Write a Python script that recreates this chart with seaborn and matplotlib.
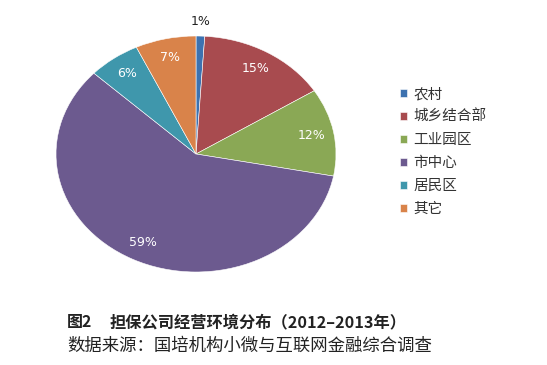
import matplotlib
matplotlib.use("Agg")
import matplotlib.pyplot as plt
import seaborn as sns

categories = ["农村", "城乡结合部", "工业园区", "市中心", "居民区", "其它"]
values = [1, 15, 12, 59, 6, 7]
labels = ["1%", "15%", "12%", "59%", "6%", "7%"]
colors = ["#3D72B0", "#A84B4F", "#8AA855", "#6C5A8F", "#3F97AC", "#D9834A"]

sns.set_theme(style="white")
plt.rcParams['font.family'] = ['Noto Sans CJK SC', 'DejaVu Sans']

fig = plt.figure(figsize=(5.47, 3.65), dpi=100)
ax = fig.add_axes([56/547, 1-272/365, 280/547, 236/365])
wedges, texts, autotexts = ax.pie(
    values, colors=sns.color_palette(colors), startangle=90, counterclock=False,
    labels=None, autopct=lambda p: "", pctdistance=0.84,
    wedgeprops=dict(edgecolor="white", linewidth=0.4))
for i, t in enumerate(autotexts):
    t.set_text(labels[i])
    t.set_fontsize(9)
    t.set_color("white")
    t.set_family(["DejaVu Sans"])
# 1% label outside, black
x, y = autotexts[0].get_position()
autotexts[0].set_position((x / 0.84 * 1.12, y / 0.84 * 1.12))
autotexts[0].set_color("#222222")
ax.set_aspect("auto")
ax.set_xlim(-1, 1)
ax.set_ylim(-1, 1)
ax.axis("off")

leg = fig.legend(wedges, categories, loc="upper left",
                 bbox_to_anchor=(400/547, 1-87/365), frameon=False,
                 fontsize=10.5, handlelength=0.5, handleheight=0.5,
                 handletextpad=0.4, labelspacing=0.62, borderaxespad=0,
                 borderpad=0)
for t in leg.get_texts():
    t.set_color("#333333")

fig.text(67/547, 1-322.5/365, "图2", fontsize=11.5, fontweight="bold",
         va="center", ha="left", color="#222222")
fig.text(110/547, 1-322.5/365, "担保公司经营环境分布（2012–2013年）",
         fontsize=11.7, fontweight="bold", va="center", ha="left", color="#222222")
fig.text(67/547, 1-346/365, "数据来源：国培机构小微与互联网金融综合调查",
         fontsize=12.5, va="center", ha="left", color="#222222")

fig.savefig("out.png", dpi=100)
